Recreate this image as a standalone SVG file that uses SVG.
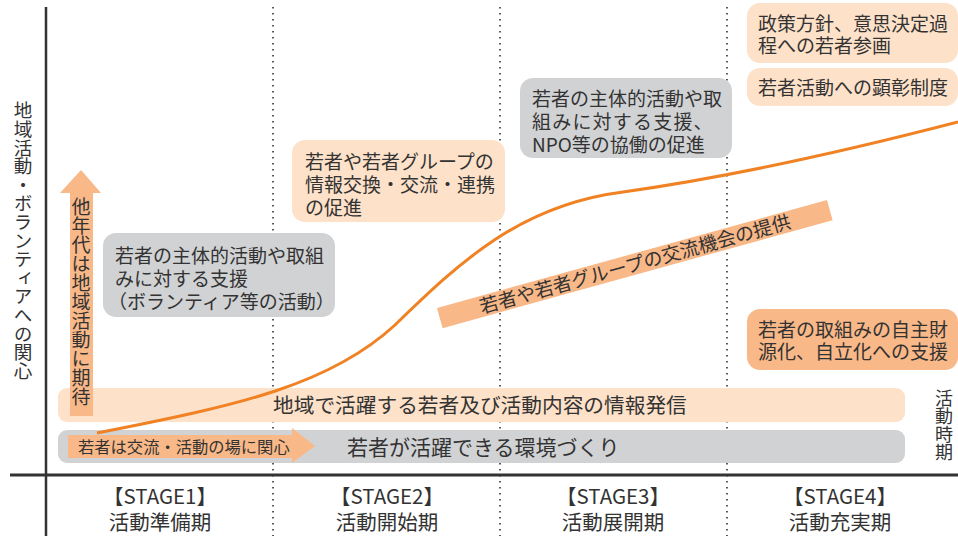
<svg xmlns="http://www.w3.org/2000/svg" width="958" height="536" viewBox="0 0 958 536">
<style>
text{font-family:"Noto Sans CJK JP","Noto Sans",sans-serif;fill:#333;}
.t19{font-size:19px;}
.vt{writing-mode:vertical-rl;}
.dot{stroke:#333;stroke-width:1.6;stroke-dasharray:1.6 4.4;fill:none;}
.gray{fill:#D1D2D4;}
.peach{fill:#FDE1C9;}
.org{fill:#F9B887;}
.stage{font-size:20.5px;text-anchor:middle;}
</style>
<rect width="958" height="536" fill="#fff"/>
<g id="grid">
<line class="dot" x1="273" y1="7" x2="273" y2="536"/>
<line class="dot" x1="500" y1="7" x2="500" y2="536"/>
<line class="dot" x1="727" y1="7" x2="727" y2="536"/>
</g>
<g id="axes">
<line x1="46" y1="7" x2="46" y2="536" stroke="#333" stroke-width="2.5"/>
<line x1="10" y1="475" x2="958" y2="475" stroke="#333" stroke-width="3"/>
<text class="vt" x="23" y="101" style="font-size:18.6px">地域活動・ボランティアへの関心</text>
<text class="vt" x="944" y="389" style="font-size:18px">活動時期</text>
</g>
<g id="bar-info">
<rect class="peach" x="58" y="388" width="847" height="34" rx="9"/>
<text x="273" y="413" style="font-size:20.7px">地域で活躍する若者及び活動内容の情報発信</text>
</g>
<g id="bar-env">
<rect class="gray" x="58" y="430" width="847" height="33" rx="9"/>
<text x="347" y="455" style="font-size:21px">若者が活躍できる環境づくり</text>
</g>
<g id="arrow-interest">
<polygon class="org" points="68,435 292,435 292,428 315,446 292,463 292,458 68,458"/>
<text x="78" y="453" style="font-size:16.3px">若者は交流・活動の場に関心</text>
</g>
<g id="arrow-up">
<polygon class="org" points="70,416 70,193 60,193 81,170 101,193 93,193 93,416"/>
<text class="vt" x="81" y="197" style="font-size:19px">他年代は地域活動に期待</text>
</g>
<g id="box-stage1">
<rect class="gray" x="103" y="233" width="232" height="84" rx="13"/>
<text class="t19"><tspan x="115" y="263">若者の主体的活動や取組</tspan><tspan x="115" y="286">みに対する支援</tspan><tspan x="108" y="309">（ボランティア等の活動）</tspan></text>
</g>
<g id="box-stage2">
<rect class="peach" x="292" y="140" width="213" height="82" rx="13"/>
<text class="t19"><tspan x="305" y="169">若者や若者グループの</tspan><tspan x="305" y="192">情報交換・交流・連携</tspan><tspan x="305" y="215">の促進</tspan></text>
</g>
<g id="box-stage3">
<rect class="gray" x="520" y="78" width="212" height="80" rx="13"/>
<text class="t19"><tspan x="532" y="106">若者の主体的活動や取</tspan><tspan x="532" y="129" letter-spacing="1.2">組みに対する支援、</tspan><tspan x="532" y="152">NPO等の協働の促進</tspan></text>
</g>
<g id="box-policy">
<rect class="peach" x="747" y="3" width="211" height="60" rx="13"/>
<text class="t19"><tspan x="758" y="31">政策方針、意思決定過</tspan><tspan x="758" y="53">程への若者参画</tspan></text>
</g>
<g id="box-award">
<rect class="peach" x="747" y="68" width="211" height="38" rx="13"/>
<text class="t19" x="758" y="95">若者活動への顕彰制度</text>
</g>
<g id="box-finance">
<rect class="org" x="747" y="309" width="211" height="61" rx="13"/>
<text class="t19"><tspan x="758" y="337">若者の取組みの自主財</tspan><tspan x="758" y="359">源化、自立化への支援</tspan></text>
</g>
<g id="connectors">
<path d="M97,433 C240,405 330,385 395,325 C460,262 520,205 623,192 C730,177 850,150 958,122" fill="none" stroke="#F08224" stroke-width="3"/>
</g>
<g id="banner-exchange">
<polygon class="org" points="437,308 827,200 832.6,220.2 442.6,328.2"/>
<text transform="translate(635,264) rotate(-15.5)" x="0" y="7" class="t19" text-anchor="middle">若者や若者グループの交流機会の提供</text>
</g>
<g id="stages">
<text class="stage"><tspan x="160" y="504">【STAGE1】</tspan><tspan x="160" y="530">活動準備期</tspan></text>
<text class="stage"><tspan x="387" y="504">【STAGE2】</tspan><tspan x="387" y="530">活動開始期</tspan></text>
<text class="stage"><tspan x="613" y="504">【STAGE3】</tspan><tspan x="613" y="530">活動展開期</tspan></text>
<text class="stage"><tspan x="840" y="504">【STAGE4】</tspan><tspan x="840" y="530">活動充実期</tspan></text>
</g>
</svg>
